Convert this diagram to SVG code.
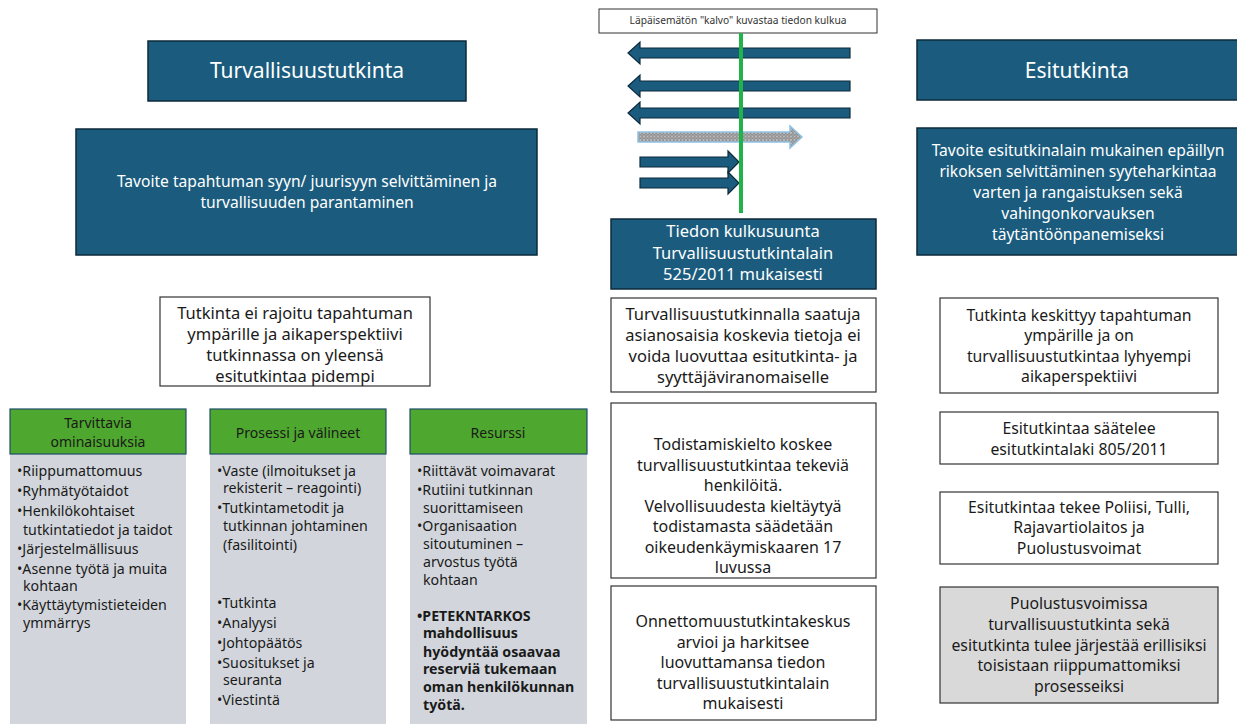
<svg xmlns="http://www.w3.org/2000/svg" width="1237" height="724" viewBox="0 0 1237 724">
<style>
text{font-family:"Noto Sans","Open Sans",sans-serif;}
.dark{fill:#1b5c7e;stroke:#0d2a3b;stroke-width:1.5;}
.wbox{fill:#ffffff;stroke:#333333;stroke-width:1.2;}
.gbox{fill:#d9d9d9;stroke:#333333;stroke-width:1.2;}
.hdr{fill:#4ea72e;stroke:#1f4e6b;stroke-width:1.2;}
.body{fill:#d2d6dc;}
.title{font-size:21px;fill:#ffffff;text-anchor:middle;}
.wt{font-size:15.6px;fill:#ffffff;text-anchor:middle;}
.wt2{font-size:16.5px;fill:#ffffff;text-anchor:middle;}
.bt{font-size:16.5px;fill:#1a1a1a;text-anchor:middle;}
.bt2{font-size:16px;fill:#1a1a1a;text-anchor:middle;}
.rt{font-size:15.8px;fill:#1a1a1a;text-anchor:middle;}
.ht{font-size:14px;fill:#1a1a1a;text-anchor:middle;}
.li{font-size:14.2px;fill:#1a1a1a;}
.lb{font-size:14.2px;fill:#1a1a1a;font-weight:bold;}
.arr{fill:#1b5c7e;stroke:#0d2a3b;stroke-width:1.2;}
</style>
<defs>
<pattern id="dots" width="3.5" height="3.5" patternUnits="userSpaceOnUse">
<rect width="3.5" height="3.5" fill="#bdbdbd"/>
<circle cx="1.75" cy="1.75" r="1.1" fill="#ffffff" stroke="#3a3a3a" stroke-width="0.6"/>
</pattern>
</defs>
<rect width="1237" height="724" fill="#ffffff"/>

<g id="turvallisuustutkinta">
<rect class="dark" x="148" y="41" width="318" height="60"/>
<text class="title" x="307" y="78">Turvallisuustutkinta</text>
</g>
<g id="tavoite-turvallisuus">
<rect class="dark" x="76" y="129" width="461" height="126"/>
<text class="wt" x="307" y="187">Tavoite tapahtuman syyn/ juurisyyn selvittäminen ja</text>
<text class="wt" x="307" y="208">turvallisuuden parantaminen</text>
</g>
<g id="esitutkinta">
<rect class="dark" x="917" y="40" width="325" height="60"/>
<text class="title" x="1077" y="78">Esitutkinta</text>
</g>
<g id="tavoite-esitutkinta">
<rect class="dark" x="917" y="128" width="325" height="127"/>
<text class="wt" x="1078" y="156">Tavoite esitutkinalain mukainen epäillyn</text>
<text class="wt" x="1078" y="177">rikoksen selvittäminen syyteharkintaa</text>
<text class="wt" x="1078" y="198">varten ja rangaistuksen sekä</text>
<text class="wt" x="1078" y="219">vahingonkorvauksen</text>
<text class="wt" x="1078" y="240">täytäntöönpanemiseksi</text>
</g>

<g id="kalvo-label">
<rect x="599" y="9" width="278" height="24" fill="#ffffff" stroke="#333333" stroke-width="1"/>
<text x="738" y="24" font-size="10.2" fill="#333333" text-anchor="middle">Läpäisemätön "kalvo" kuvastaa tiedon kulkua</text>
</g>

<g id="connectors">
<polygon class="arr" points="850,48 640,48 640,42 628,53 640,64 640,58 850,58"/>
<polygon class="arr" points="850,81 640,81 640,75 628,86 640,97 640,91 850,91"/>
<polygon class="arr" points="850,108 640,108 640,102 628,113 640,124 640,118 850,118"/>
<polygon points="638,132 790,132 790,126 802,137 790,148 790,142 638,142" fill="url(#dots)" stroke="#8fc1e3" stroke-width="1.5"/>
<polygon class="arr" points="640,157 728,157 728,151 739,162 728,173 728,167 640,167"/>
<polygon class="arr" points="640,178 728,178 728,172 739,183 728,194 728,188 640,188"/>
<line x1="741" y1="33" x2="741" y2="213" stroke="#1fb34a" stroke-width="4"/>
</g>

<g id="tiedon-kulkusuunta">
<rect class="dark" x="611" y="219" width="265" height="70"/>
<text class="wt2" x="743" y="237">Tiedon kulkusuunta</text>
<text class="wt2" x="743" y="259">Turvallisuustutkintalain</text>
<text class="wt2" x="743" y="280">525/2011 mukaisesti</text>
</g>
<g id="luovutus">
<rect class="wbox" x="611" y="298" width="265" height="94"/>
<text class="bt" x="743" y="320">Turvallisuustutkinnalla saatuja</text>
<text class="bt" x="743" y="341">asianosaisia koskevia tietoja ei</text>
<text class="bt" x="743" y="362">voida luovuttaa esitutkinta- ja</text>
<text class="bt" x="743" y="383">syyttäjäviranomaiselle</text>
</g>
<g id="todistamiskielto">
<rect class="wbox" x="611" y="403" width="265" height="175"/>
<text class="bt2" x="743" y="450">Todistamiskielto koskee</text>
<text class="bt2" x="743" y="470.5">turvallisuustutkintaa tekeviä</text>
<text class="bt2" x="743" y="491">henkilöitä.</text>
<text class="bt2" x="743" y="511.5">Velvollisuudesta kieltäytyä</text>
<text class="bt2" x="743" y="532">todistamasta säädetään</text>
<text class="bt2" x="743" y="552.5">oikeudenkäymiskaaren 17</text>
<text class="bt2" x="743" y="573">luvussa</text>
</g>
<g id="onnettomuustutkintakeskus">
<rect class="wbox" x="611" y="586" width="265" height="134"/>
<text class="bt2" x="743" y="627">Onnettomuustutkintakeskus</text>
<text class="bt2" x="743" y="647.5">arvioi ja harkitsee</text>
<text class="bt2" x="743" y="668">luovuttamansa tiedon</text>
<text class="bt2" x="743" y="688.5">turvallisuustutkintalain</text>
<text class="bt2" x="743" y="709">mukaisesti</text>
</g>

<g id="tutkinta-ei-rajoitu">
<rect class="wbox" x="160" y="297" width="270" height="89"/>
<text class="bt" x="295" y="319">Tutkinta ei rajoitu tapahtuman</text>
<text class="bt" x="295" y="340">ympärille ja aikaperspektiivi</text>
<text class="bt" x="295" y="361">tutkinnassa on yleensä</text>
<text class="bt" x="295" y="382">esitutkintaa pidempi</text>
</g>

<g id="tutkinta-keskittyy">
<rect class="wbox" x="940" y="298" width="278" height="95"/>
<text class="rt" x="1079" y="321">Tutkinta keskittyy tapahtuman</text>
<text class="rt" x="1079" y="341">ympärille ja on</text>
<text class="rt" x="1079" y="362">turvallisuustutkintaa lyhyempi</text>
<text class="rt" x="1079" y="382">aikaperspektiivi</text>
</g>
<g id="esitutkintalaki">
<rect class="wbox" x="940" y="412" width="278" height="52"/>
<text class="rt" x="1079" y="434">Esitutkintaa säätelee</text>
<text class="rt" x="1079" y="455">esitutkintalaki 805/2011</text>
</g>
<g id="esitutkinnan-tekijat">
<rect class="wbox" x="940" y="492" width="278" height="72"/>
<text class="rt" x="1079" y="513">Esitutkintaa tekee Poliisi, Tulli,</text>
<text class="rt" x="1079" y="533">Rajavartiolaitos ja</text>
<text class="rt" x="1079" y="554">Puolustusvoimat</text>
</g>
<g id="puolustusvoimissa">
<rect class="gbox" x="940" y="587" width="278" height="116"/>
<text class="rt" x="1079" y="609">Puolustusvoimissa</text>
<text class="rt" x="1079" y="630">turvallisuustutkinta sekä</text>
<text class="rt" x="1079" y="651">esitutkinta tulee järjestää erillisiksi</text>
<text class="rt" x="1079" y="671">toisistaan riippumattomiksi</text>
<text class="rt" x="1079" y="692">prosesseiksi</text>
</g>

<g id="ominaisuudet">
<rect class="body" x="10" y="454" width="176" height="270"/>
<rect class="hdr" x="10" y="409" width="176" height="45"/>
<text class="ht" x="98" y="428">Tarvittavia</text>
<text class="ht" x="98" y="447">ominaisuuksia</text>
<text class="li" x="17" y="476">•Riippumattomuus</text>
<text class="li" x="17" y="496">•Ryhmätyötaidot</text>
<text class="li" x="17" y="516">•Henkilökohtaiset</text>
<text class="li" x="23" y="535">tutkintatiedot ja taidot</text>
<text class="li" x="17" y="554">•Järjestelmällisuus</text>
<text class="li" x="17" y="574">•Asenne työtä ja muita</text>
<text class="li" x="23" y="591">kohtaan</text>
<text class="li" x="17" y="610">•Käyttäytymistieteiden</text>
<text class="li" x="23" y="628">ymmärrys</text>
</g>

<g id="prosessi">
<rect class="body" x="210" y="454" width="176" height="270"/>
<rect class="hdr" x="210" y="409" width="176" height="45"/>
<text class="ht" x="298" y="438">Prosessi ja välineet</text>
<text class="li" x="217" y="476">•Vaste (ilmoitukset ja</text>
<text class="li" x="223" y="493">rekisterit – reagointi)</text>
<text class="li" x="217" y="513">•Tutkintametodit ja</text>
<text class="li" x="223" y="531">tutkinnan johtaminen</text>
<text class="li" x="223" y="550">(fasilitointi)</text>
<text class="li" x="217" y="608">•Tutkinta</text>
<text class="li" x="217" y="628">•Analyysi</text>
<text class="li" x="217" y="648">•Johtopäätös</text>
<text class="li" x="217" y="668">•Suositukset ja</text>
<text class="li" x="223" y="685">seuranta</text>
<text class="li" x="217" y="705">•Viestintä</text>
</g>

<g id="resurssi">
<rect class="body" x="410" y="454" width="177" height="270"/>
<rect class="hdr" x="410" y="409" width="177" height="45"/>
<text class="ht" x="498" y="438">Resurssi</text>
<text class="li" x="417" y="476">•Riittävät voimavarat</text>
<text class="li" x="417" y="495">•Rutiini tutkinnan</text>
<text class="li" x="423" y="513">suorittamiseen</text>
<text class="li" x="417" y="531">•Organisaation</text>
<text class="li" x="423" y="549">sitoutuminen –</text>
<text class="li" x="423" y="567">arvostus työtä</text>
<text class="li" x="423" y="585">kohtaan</text>
<text class="lb" x="417" y="621">•PETEKNTARKOS</text>
<text class="lb" x="423" y="638">mahdollisuus</text>
<text class="lb" x="423" y="657">hyödyntää osaavaa</text>
<text class="lb" x="423" y="674">reserviä tukemaan</text>
<text class="lb" x="423" y="692">oman henkilökunnan</text>
<text class="lb" x="423" y="710">työtä.</text>
</g>
</svg>
